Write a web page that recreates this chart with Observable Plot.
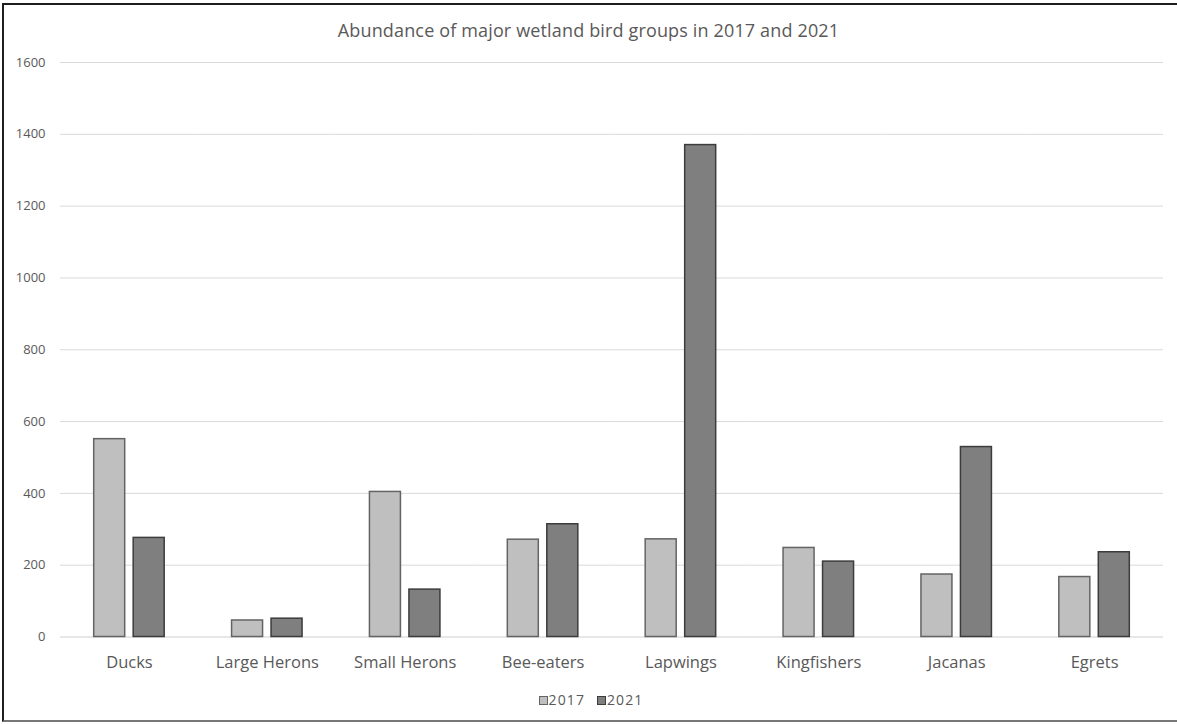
<!DOCTYPE html>
<html>
<head>
<meta charset="utf-8">
<script src="https://cdn.jsdelivr.net/npm/d3@7"></script>
<script src="https://cdn.jsdelivr.net/npm/@observablehq/plot@0.6"></script>
<style>
  html, body { margin: 0; padding: 0; background: #fff; width: 1177px; height: 724px; overflow: hidden; }
  body { position: relative; font-family: "Open Sans", sans-serif; color: #595959; }
  #frame {
    position: absolute; left: 2px; top: 3px; width: 1200px; height: 719px;
    box-sizing: border-box; border: 2px solid #1e1e1e; border-right: none; border-bottom-color: #777;
  }
  #title {
    position: absolute; top: 19px; left: 0; width: 1177px; text-align: center;
    font-size: 18px; line-height: 22px; color: #595959; letter-spacing: 0.15px;
  }
  #chart { position: absolute; top: 40px; left: 0; }
  #legend {
    position: absolute; top: 690px; left: 0; width: 1182px; display: flex; justify-content: center;
    font-size: 14px; line-height: 20px; color: #595959; letter-spacing: 1.1px;
  }
  .item { display: flex; align-items: center; margin: 0 6px; }
  .sw { width: 7px; height: 7px; border: 1.5px solid #555; margin-right: 1px; }
</style>
</head>
<body>
<div id="frame"></div>
<div id="title">Abundance of major wetland bird groups in 2017 and 2021</div>
<div id="chart"></div>
<div id="legend"></div>
<script>
// Bird groups and counts per survey year
const groups = ["Ducks", "Large Herons", "Small Herons", "Bee-eaters", "Lapwings", "Kingfishers", "Jacanas", "Egrets"];
const years = ["2017", "2021"];
const counts2017 = [551, 46, 404, 271, 272, 248, 174, 167];
const counts2021 = [276, 51, 132, 314, 1370, 210, 529, 236];
const yTicks = [0, 200, 400, 600, 800, 1000, 1200, 1400, 1600];

// Colours for each year's bars (fill / outline)
const fills = {"2017": "#bfbfbf", "2021": "#7f7f7f"};
const outlines = {"2017": "#646464", "2021": "#3c3c3c"};

const rows = groups.flatMap((g, i) => [
  {group: g, year: "2017", count: counts2017[i]},
  {group: g, year: "2021", count: counts2021[i]}
]);

const bars = (year) => Plot.barY(rows.filter(d => d.year === year), {
  fx: "group", x: "year", y: "count",
  fill: fills[year], stroke: outlines[year], strokeWidth: 1.5
});

const chart = Plot.plot({
  width: 1177,
  height: 640,
  marginTop: 22,
  marginBottom: 43.5,
  marginLeft: 60,
  marginRight: 14,
  style: {fontFamily: "'Open Sans', sans-serif", color: "#595959", background: "transparent"},
  fx: {domain: groups, padding: 0, round: false, label: null},
  x: {domain: years, paddingInner: 0.215, paddingOuter: 0.853, round: false, axis: null},
  y: {domain: [0, 1600], axis: null},
  marks: [
    Plot.ruleY(yTicks.filter(t => t > 0), {stroke: "#d9d9d9", strokeWidth: 1}),
    Plot.ruleY([0], {stroke: "#cfcfcf", strokeWidth: 1}),
    bars("2017"),
    bars("2021"),
    Plot.axisY(yTicks, {anchor: "left", tickSize: 0, tickPadding: 15, fontSize: 13, label: null,
      tickFormat: d => String(d), style: {letterSpacing: "0.6px"}}),
    Plot.axisFx({anchor: "bottom", tickSize: 0, tickPadding: 19, fontSize: 16.5, label: null,
      style: {letterSpacing: "0.6px"}})
  ]
});
document.getElementById("chart").appendChild(chart);

// Legend below the chart
const legend = document.getElementById("legend");
for (const y of years) {
  const item = document.createElement("div");
  item.className = "item";
  const sw = document.createElement("span");
  sw.className = "sw";
  sw.style.background = fills[y];
  sw.style.borderColor = outlines[y];
  const label = document.createElement("span");
  label.textContent = y;
  item.append(sw, label);
  legend.append(item);
}
</script>
</body>
</html>
